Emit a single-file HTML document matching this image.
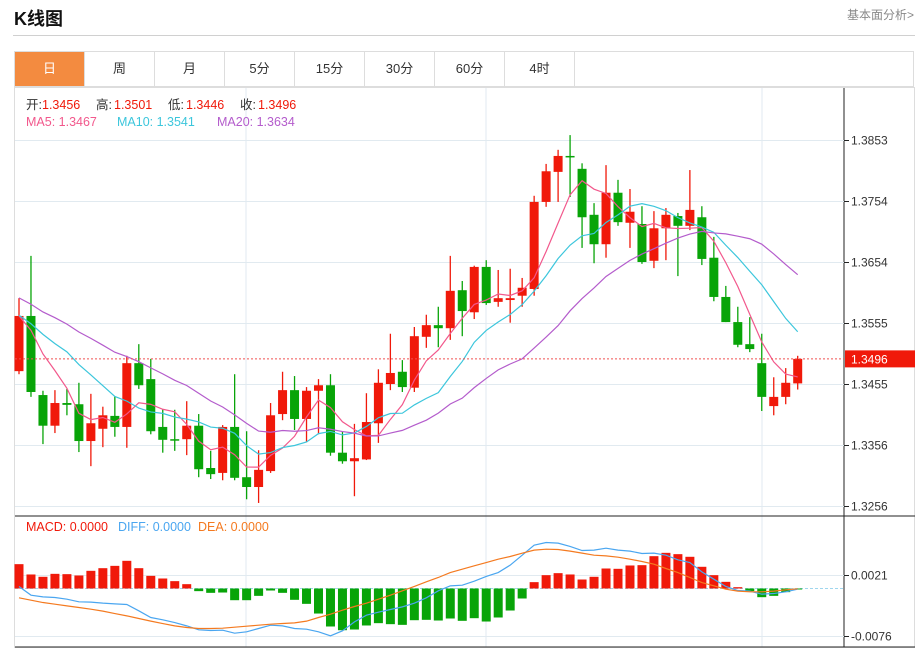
<!DOCTYPE html>
<html><head><meta charset="utf-8">
<style>
body{margin:0;width:924px;height:649px;background:#fff;font-family:"Liberation Sans","Noto Sans CJK SC",sans-serif;overflow:hidden;position:relative}
.title{position:absolute;left:14px;top:5px;font-size:18px;font-weight:bold;color:#111}
.more{position:absolute;right:10px;top:6px;font-size:12px;color:#888}
.sep{position:absolute;left:13px;top:35px;width:902px;height:1px;background:#d0d0d0}
.tabs{position:absolute;left:14px;top:51px;width:900px;height:36px;border:1px solid #ddd;box-sizing:border-box;display:flex}
.tab{width:70px;height:34px;line-height:34px;text-align:center;font-size:13px;color:#333;border-right:1px solid #ddd;box-sizing:border-box}
.tab.on{background:#f38b40;color:#fff}
svg{position:absolute;left:0;top:0}
</style></head><body>
<div class="title">K线图</div>
<div class="more">基本面分析&gt;</div>
<div class="sep"></div>
<div class="tabs">
<div class="tab on">日</div>
<div class="tab">周</div>
<div class="tab">月</div>
<div class="tab">5分</div>
<div class="tab">15分</div>
<div class="tab">30分</div>
<div class="tab">60分</div>
<div class="tab">4时</div>
</div>
<svg id="chart" width="924" height="649"></svg>
<script>
const opens=[1.3476,1.3566,1.3437,1.3387,1.3424,1.3422,1.3362,1.3382,1.3403,1.3385,1.3489,1.3463,1.3385,1.3365,1.3365,1.3387,1.3318,1.3310,1.3385,1.3303,1.3287,1.3313,1.3406,1.3445,1.3398,1.3444,1.3453,1.3343,1.3329,1.3332,1.3391,1.3455,1.3475,1.3449,1.3532,1.3551,1.3546,1.3608,1.3572,1.3646,1.3589,1.3592,1.3599,1.3610,1.3752,1.3801,1.3827,1.3806,1.3731,1.3683,1.3767,1.3718,1.3716,1.3656,1.3709,1.3729,1.3713,1.3727,1.3661,1.3597,1.3556,1.3520,1.3489,1.3419,1.3434,1.3456];
const closes=[1.3566,1.3442,1.3387,1.3424,1.3421,1.3362,1.3391,1.3404,1.3385,1.3489,1.3453,1.3378,1.3364,1.3364,1.3387,1.3316,1.3308,1.3385,1.3302,1.3287,1.3315,1.3404,1.3445,1.3398,1.3444,1.3453,1.3343,1.3329,1.3334,1.3393,1.3457,1.3473,1.3450,1.3533,1.3551,1.3546,1.3607,1.3574,1.3646,1.3587,1.3595,1.3595,1.3612,1.3752,1.3802,1.3827,1.3825,1.3727,1.3683,1.3767,1.3719,1.3736,1.3654,1.3709,1.3731,1.3713,1.3739,1.3659,1.3597,1.3556,1.3519,1.3512,1.3434,1.3434,1.3457,1.3496];
const highs=[1.3595,1.3664,1.3444,1.3445,1.3447,1.3457,1.3439,1.3418,1.3435,1.3501,1.3520,1.3496,1.3414,1.3413,1.3427,1.3406,1.3346,1.3388,1.3471,1.3378,1.3347,1.3424,1.3475,1.3468,1.3450,1.3463,1.3471,1.3377,1.3390,1.3440,1.3479,1.3537,1.3494,1.3548,1.3568,1.3581,1.3664,1.3623,1.3648,1.3657,1.3641,1.3643,1.3628,1.3762,1.3814,1.3837,1.3861,1.3815,1.3750,1.3812,1.3788,1.3773,1.3745,1.3737,1.3742,1.3734,1.3804,1.3745,1.3695,1.3615,1.3581,1.3564,1.3537,1.3466,1.3481,1.3501];
const lows=[1.3471,1.3434,1.3357,1.3375,1.3404,1.3344,1.3321,1.3352,1.3369,1.3351,1.3447,1.3373,1.3343,1.3346,1.3339,1.3303,1.3300,1.3298,1.3298,1.3267,1.3261,1.3310,1.3396,1.3380,1.3360,1.3373,1.3338,1.3325,1.3272,1.3331,1.3359,1.3445,1.3442,1.3442,1.3514,1.3515,1.3527,1.3533,1.3561,1.3584,1.3581,1.3555,1.3581,1.3599,1.3744,1.3752,1.3760,1.3677,1.3652,1.3661,1.3713,1.3677,1.3651,1.3644,1.3657,1.3631,1.3706,1.3649,1.3590,1.3556,1.3515,1.3507,1.3411,1.3404,1.3422,1.3446];
const prevCloses=[1.3650,1.3640,1.3610,1.3630,1.3620,1.3600,1.3625,1.3615,1.3630,1.3620,1.3580,1.3560,1.3575,1.3555,1.3570,1.3560,1.3580,1.3560,1.3565];
const diffVals=[0.00032,-0.00106,-0.00133,-0.00143,-0.00170,-0.00212,-0.00217,-0.00233,-0.00244,-0.00254,-0.00355,-0.00461,-0.00498,-0.00541,-0.00594,-0.00657,-0.00668,-0.00663,-0.00710,-0.00689,-0.00636,-0.00583,-0.00594,-0.00636,-0.00647,-0.00689,-0.00753,-0.00673,-0.00530,-0.00424,-0.00376,-0.00334,-0.00292,-0.00233,-0.00148,-0.00037,0.00042,0.00053,0.00117,0.00191,0.00254,0.00371,0.00530,0.00689,0.00731,0.00721,0.00668,0.00604,0.00610,0.00641,0.00610,0.00594,0.00557,0.00562,0.00530,0.00456,0.00413,0.00265,0.00148,0.00032,-0.00032,-0.00042,-0.00090,-0.00080,-0.00053,-0.00011];
const deaVals=[-0.00148,-0.00186,-0.00223,-0.00249,-0.00276,-0.00302,-0.00329,-0.00360,-0.00398,-0.00435,-0.00477,-0.00519,-0.00557,-0.00594,-0.00620,-0.00636,-0.00636,-0.00631,-0.00615,-0.00599,-0.00583,-0.00567,-0.00557,-0.00546,-0.00519,-0.00461,-0.00408,-0.00345,-0.00286,-0.00233,-0.00170,-0.00106,-0.00037,0.00032,0.00106,0.00175,0.00254,0.00307,0.00360,0.00413,0.00466,0.00509,0.00562,0.00610,0.00625,0.00620,0.00594,0.00562,0.00530,0.00519,0.00498,0.00466,0.00429,0.00387,0.00318,0.00254,0.00175,0.00095,0.00042,-0.00011,-0.00042,-0.00053,-0.00053,-0.00042,-0.00021,-0.00005];
const macdVals=[0.00387,0.00223,0.00186,0.00233,0.00228,0.00207,0.00281,0.00323,0.00360,0.00440,0.00323,0.00201,0.00159,0.00117,0.00069,-0.00042,-0.00069,-0.00064,-0.00186,-0.00186,-0.00117,-0.00032,-0.00069,-0.00180,-0.00244,-0.00398,-0.00604,-0.00663,-0.00652,-0.00588,-0.00551,-0.00567,-0.00578,-0.00504,-0.00498,-0.00509,-0.00477,-0.00514,-0.00472,-0.00525,-0.00461,-0.00350,-0.00159,0.00101,0.00212,0.00244,0.00223,0.00143,0.00186,0.00318,0.00313,0.00366,0.00371,0.00514,0.00567,0.00546,0.00504,0.00345,0.00212,0.00106,0.00021,-0.00042,-0.00138,-0.00117,-0.00058,-0.00010];
const priceTicks=[1.3853,1.3754,1.3654,1.3555,1.3455,1.3356,1.3256];
const macdTicks=[0.0021,-0.0076];

const svg=document.getElementById('chart');
const NS='http://www.w3.org/2000/svg';
function mk(tag,attrs,parent){const e=document.createElementNS(NS,tag);for(const k in attrs)e.setAttribute(k,attrs[k]);(parent||svg).appendChild(e);return e;}
const X0=19,DX=11.98,L=15,R=844;
const xAt=i=>X0+i*DX;
const yP=p=>140+(1.3853-p)*6131;
const yM=v=>588.5-v*6290;
const RED='#f0190a',GREEN='#08a408';

let g=mk('g',{});
mk('rect',{x:14.5,y:87.5,width:900,height:560,fill:'none',stroke:'#ddd'},g);
[246,486,762].forEach(x=>{mk('line',{x1:x,y1:88,x2:x,y2:647,stroke:'#e1eaf0'},g);});
mk('line',{x1:R,y1:88,x2:R,y2:647,stroke:'#222'},g);
mk('line',{x1:L,y1:516,x2:915,y2:516,stroke:'#222'},g);
mk('line',{x1:L,y1:647,x2:915,y2:647,stroke:'#222'},g);

let ga=mk('g',{});
priceTicks.forEach(t=>{const y=Math.round(yP(t))+0.5;
 mk('line',{x1:L,y1:y,x2:R,y2:y,stroke:'#e1eaf0'},ga);
 mk('line',{x1:R,y1:y,x2:R+5,y2:y,stroke:'#222'},ga);
 const tx=mk('text',{x:R+7,y:y+4,'font-size':12,fill:'#333'},ga);tx.textContent=t.toFixed(4);
 });
let gm=mk('g',{});
macdTicks.forEach(t=>{const y=Math.round(yM(t))+0.5;
 mk('line',{x1:L,y1:y,x2:R,y2:y,stroke:'#e1eaf0'},gm);
 mk('line',{x1:R,y1:y,x2:R+5,y2:y,stroke:'#222'},gm);
 const tx=mk('text',{x:R+7,y:y+4,'font-size':12,fill:'#333'},gm);tx.textContent=t.toFixed(4);
 });
mk('line',{x1:L,y1:yM(0),x2:R,y2:yM(0),stroke:'#9fd6ee','stroke-dasharray':'3,2'},gm);

let gc=mk('g',{});
opens.forEach((o,i)=>{const c=closes[i],x=xAt(i),col=c>=o?RED:GREEN;
 const cg=mk('g',{},gc);
 
 
 mk('line',{x1:x,y1:yP(highs[i]),x2:x,y2:yP(lows[i]),stroke:col,'stroke-width':1.3},cg);
 const t=yP(Math.max(o,c)),b=yP(Math.min(o,c));
 mk('rect',{x:x-4.5,y:t,width:9,height:Math.max(1.5,b-t),fill:col},cg);});

const all=prevCloses.concat(closes),off=prevCloses.length;
function ma(n){return closes.map((_,i)=>{const j=i+off;let s=0,k=0;for(let m=Math.max(0,j-n+1);m<=j;m++){s+=all[m];k++;}return s/k;});}
[[5,'#f2588c','ma5-line'],[10,'#3cc6dc','ma10-line'],[20,'#b45ccc','ma20-line']].forEach(([n,col,name])=>{
 const v=ma(n);const p=mk('polyline',{points:v.map((y,i)=>xAt(i)+','+yP(y)).join(' '),fill:'none',stroke:col,'stroke-width':1.2});
 });

const last=closes[closes.length-1],ly=yP(last);
mk('line',{x1:L,y1:ly,x2:R,y2:ly,stroke:'#f05050','stroke-dasharray':'2,2'});
let lr=mk('rect',{x:R+1,y:ly-8.5,width:70,height:17,fill:'#f0190a'});

let lt=mk('text',{x:R+7,y:ly+4.5,'font-size':12,fill:'#fff'});lt.textContent=last.toFixed(4);

let gh=mk('g',{});
macdVals.forEach((h,i)=>{const y0=yM(0),y1=yM(h);
 const r=mk('rect',{x:xAt(i)-4.5,y:Math.min(y0,y1),width:9,height:Math.max(1,Math.abs(y1-y0)),fill:h>=0?RED:GREEN},gh);
 });
let pd=mk('polyline',{points:diffVals.map((v,i)=>xAt(i)+','+yM(v)).join(' '),fill:'none',stroke:'#4aa6f0','stroke-width':1.2});

let pe=mk('polyline',{points:deaVals.map((v,i)=>xAt(i)+','+yM(v)).join(' '),fill:'none',stroke:'#f47a20','stroke-width':1.2});


function txt(x,y,s,col,name){const t=mk('text',{x:x,y:y,'font-size':12.5,fill:col});t.textContent=s;return t;}
const fmt=v=>v.toFixed(4);
txt(26,109,'开:','#333','legend-open-label');txt(42,109,fmt(opens[65]),'#f0190a','legend-open');
txt(96,109,'高:','#333','legend-high-label');txt(114,109,fmt(highs[65]),'#f0190a','legend-high');
txt(168,109,'低:','#333','legend-low-label');txt(186,109,fmt(lows[65]),'#f0190a','legend-low');
txt(240,109,'收:','#333','legend-close-label');txt(258,109,fmt(closes[65]),'#f0190a','legend-close');
txt(26,126,'MA5: 1.3467','#f2588c','legend-ma5');
txt(117,126,'MA10: 1.3541','#3cc6dc','legend-ma10');
txt(217,126,'MA20: 1.3634','#b45ccc','legend-ma20');
txt(26,531,'MACD: 0.0000','#f0190a','legend-macd');
txt(118,531,'DIFF: 0.0000','#4aa6f0','legend-diff');
txt(198,531,'DEA: 0.0000','#f47a20','legend-dea');
</script>
</body></html>
